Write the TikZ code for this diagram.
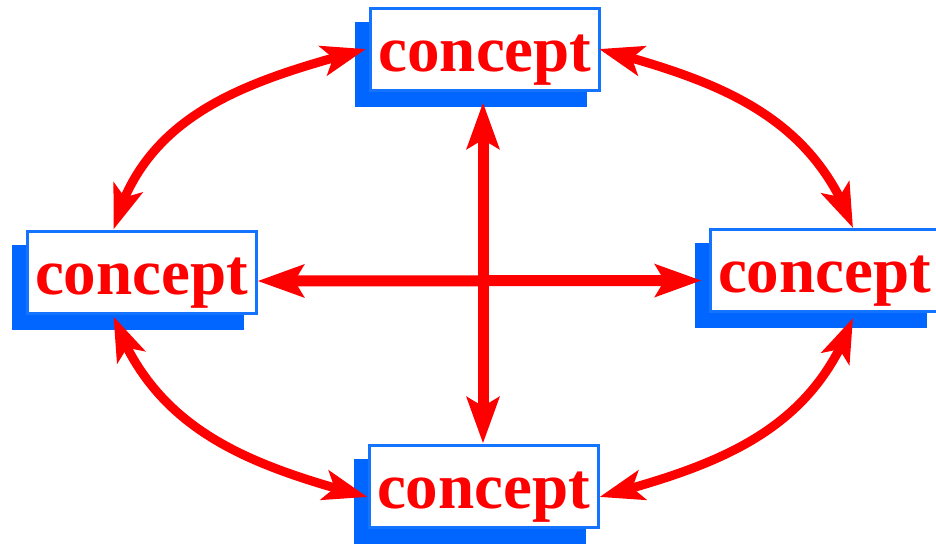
\documentclass[tikz,border=0pt]{standalone}
\usepackage{fontspec}
\setmainfont{Liberation Serif}
\usetikzlibrary{arrows.meta,shadows,bending}
\definecolor{boxblue}{RGB}{20,115,255}
\definecolor{shadowblue}{RGB}{0,102,255}
\definecolor{arrred}{RGB}{255,0,0}
\tikzset{
  concept/.style={draw=boxblue, line width=3pt, fill=white, rectangle,
    minimum width=229pt, minimum height=82pt, inner sep=0pt,
    text=arrred, font=\fontsize{65}{65}\selectfont\bfseries,
    text height=44pt, text depth=0pt,
    general shadow={fill=shadowblue, draw=shadowblue, line width=3pt,
      shadow xshift=-14pt, shadow yshift=-15pt}},
  link/.style={draw=arrred, line width=9pt,
    {Stealth[length=44pt,width=30pt,inset=10pt]}-{Stealth[length=44pt,width=30pt,inset=10pt]}},
  straightlink/.style={draw=arrred, line width=11pt,
    {Stealth[length=46pt,width=32pt,inset=9pt]}-{Stealth[length=46pt,width=32pt,inset=9pt]}}
}
\begin{document}
\begin{tikzpicture}[x=1pt,y=-1pt]
\useasboundingbox (0,0) rectangle (936,547);
\node[concept] (T) at (485,49) {concept};
\node[concept] (L) at (141.5,272) {concept};
\node[concept] (R) at (824.5,270.5) {concept};
\node[concept] (B) at (483.5,486) {concept};
% straight arrows
\draw[straightlink] ([yshift=-9pt]L.east) -- ([xshift=-7pt,yshift=-10pt]R.west);
\draw[straightlink] ([xshift=-2pt,yshift=-11pt]T.south) -- ([xshift=-0.5pt]B.north);
% curved arrows
\draw[link] ([xshift=-28pt]L.north) to[out=75,in=195] ([xshift=-3pt]T.west);
\draw[link] ([xshift=-2pt]T.east) to[out=-15,in=110] ([xshift=28.5pt]R.north);
\draw[link] ([xshift=-28pt,yshift=-2pt]L.south) to[out=-70,in=165] ([yshift=-11pt]B.west);
\draw[link] ([yshift=-11pt]B.east) to[out=15,in=-110] ([xshift=28.5pt,yshift=-5pt]R.south);
\end{tikzpicture}
\end{document}
